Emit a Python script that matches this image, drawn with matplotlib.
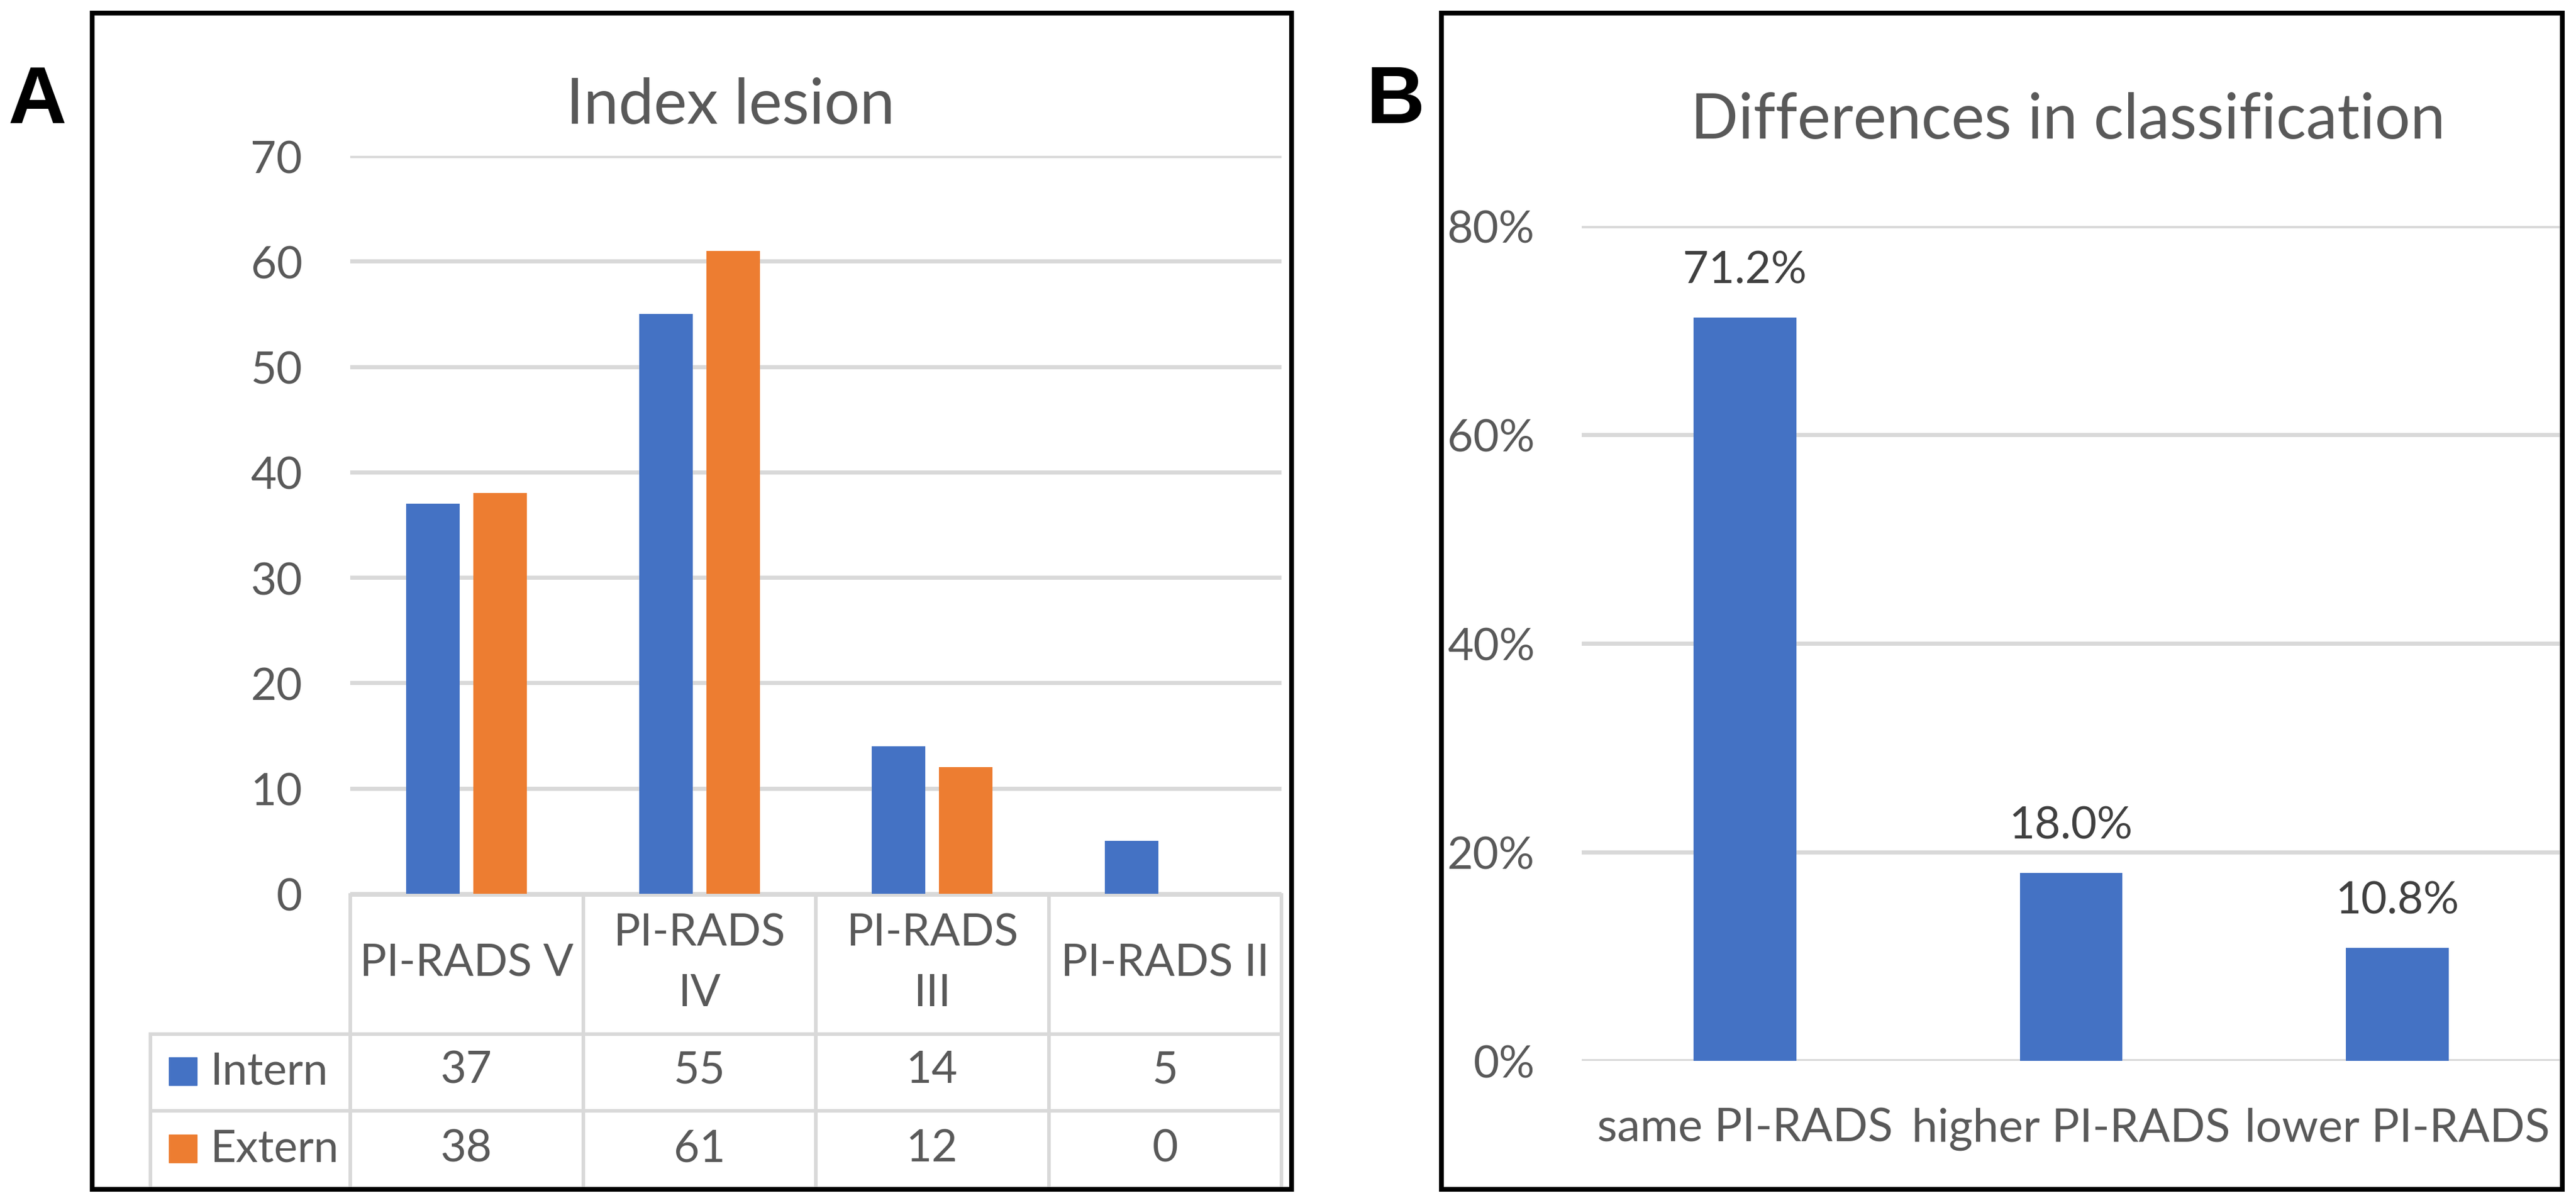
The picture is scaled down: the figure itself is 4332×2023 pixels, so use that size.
import matplotlib.pyplot as plt
from matplotlib.patches import Rectangle
from matplotlib.transforms import blended_transform_factory

plt.rcParams['font.family'] = ['Lato', 'DejaVu Sans']

# panel A data
grades = ["PI-RADS V", "PI-RADS\nIV", "PI-RADS\nIII", "PI-RADS II"]
intern = [37, 55, 14, 5]
extern = [38, 61, 12, 0]

# panel B data
changes = ["same PI-RADS", "higher PI-RADS", "lower PI-RADS"]
shares = [0.712, 0.180, 0.108]

W, H = 4332, 2024
blue = "#4472C4"
orange = "#ED7D31"
grey = "#595959"
gridc = "#D9D9D9"
fs = 54

fig = plt.figure(figsize=(W / 100, H / 100), dpi=100)

def fx(px):
    return px / W

def fy(py):
    return 1 - py / H

# panel frames
fig.add_artist(Rectangle((fx(155), fy(2001)), fx(2172 - 155), (2001 - 23) / H,
                         transform=fig.transFigure, fill=False, ec="black", lw=5.8))
fig.add_artist(Rectangle((fx(2424), fy(2001)), fx(4309 - 2424), (2001 - 23) / H,
                         transform=fig.transFigure, fill=False, ec="black", lw=5.8))
fig.text(fx(14), fy(207), "A", fontsize=98, fontweight="bold", family="Liberation Sans",
         va="baseline", ha="left")
fig.text(fx(2298), fy(207), "B", fontsize=98, fontweight="bold", family="Liberation Sans",
         va="baseline", ha="left")

# ---------- panel A ----------
ax = fig.add_axes([fx(589), fy(1504), fx(2155 - 589), (1504 - 263) / H])
x = list(range(len(grades)))
bw = 0.23
off = 0.144
ax.bar([i - off for i in x], intern, width=bw, color=blue, zorder=3)
ax.bar([i + off for i in x], extern, width=bw, color=orange, zorder=3)
ax.set_xlim(-0.5, len(grades) - 0.5)
ax.set_ylim(0, 70)
ax.set_yticks(range(0, 71, 10))
ax.yaxis.grid(True, color=gridc, lw=5, zorder=0)
ax.set_xticks([])
for s in ax.spines.values():
    s.set_visible(False)
ax.tick_params(axis="y", length=0, pad=58, labelsize=fs, labelcolor=grey)
fig.text(fx(1228), fy(208), "Index lesion", fontsize=76, color=grey,
         ha="center", va="baseline")

# data table under the chart
tr = blended_transform_factory(ax.transData, ax.transAxes)
axh = 1504 - 263
colw = 1566 / 4
def ay(py):
    return (1504 - py) / axh
leg_left = -0.5 - (589 - 253) / colw
y_head, y_int, y_ext, y_bot = ay(1506), ay(1740), ay(1869), ay(2001)
lw_t = 4.3
ax.plot([-0.5, 3.5], [y_head, y_head], transform=tr, color=gridc, lw=lw_t, clip_on=False)
for yy in (y_int, y_ext, y_bot):
    ax.plot([leg_left, 3.5], [yy, yy], transform=tr, color=gridc, lw=lw_t, clip_on=False)
for i in range(len(grades) + 1):
    ax.plot([i - 0.5, i - 0.5], [y_head, y_bot], transform=tr, color=gridc, lw=lw_t,
            clip_on=False)
ax.plot([leg_left, leg_left], [y_int, y_bot], transform=tr, color=gridc, lw=lw_t,
        clip_on=False)
for i, g in enumerate(grades):
    ax.text(i, ay(1620), g, transform=tr, ha="center", va="center", fontsize=fs,
            color=grey, linespacing=1.58)
    ax.text(i, ay(1800), str(intern[i]), transform=tr, ha="center", va="center",
            fontsize=fs, color=grey)
    ax.text(i, ay(1932), str(extern[i]), transform=tr, ha="center", va="center",
            fontsize=fs, color=grey)
sq_w = 47 / colw
sq_h = 47 / axh
sq_x = leg_left + (284 - 253) / colw
for name, col, yc in (("Intern", blue, ay(1802)), ("Extern", orange, ay(1932))):
    ax.add_patch(Rectangle((sq_x, yc - sq_h / 2), sq_w, sq_h, transform=tr,
                           color=col, clip_on=False))
    ax.text(leg_left + (353 - 253) / colw, yc, name, transform=tr, ha="left",
            va="center", fontsize=fs, color=grey)

# ---------- panel B ----------
bx = fig.add_axes([fx(2660), fy(1785), fx(4306 - 2660), (1785 - 381) / H])
bx.bar(changes, shares, width=0.315, color=blue, zorder=3)
bx.set_xlim(-0.5, len(changes) - 0.5)
bx.set_ylim(0, 0.8)
bx.set_yticks([0, 0.2, 0.4, 0.6, 0.8])
bx.set_yticklabels(["0%", "20%", "40%", "60%", "80%"])
bx.yaxis.grid(True, color=gridc, lw=5, zorder=0)
for s in bx.spines.values():
    s.set_visible(False)
bx.axhline(0, color=gridc, lw=5, zorder=2)
bx.tick_params(axis="y", length=0, pad=57, labelsize=fs, labelcolor=grey)
bx.tick_params(axis="x", length=0, pad=56, labelsize=56, labelcolor=grey)
for i, v in enumerate(shares):
    bx.annotate(f"{v * 100:.1f}%", (i, v), xytext=(0, 42.5), textcoords="offset points",
                ha="center", va="baseline", fontsize=fs, color="#404040")
fig.text(fx(3478), fy(233), "Differences in classification", fontsize=76, color=grey,
         ha="center", va="baseline")

fig.savefig("out.png", dpi=100, facecolor="white")
